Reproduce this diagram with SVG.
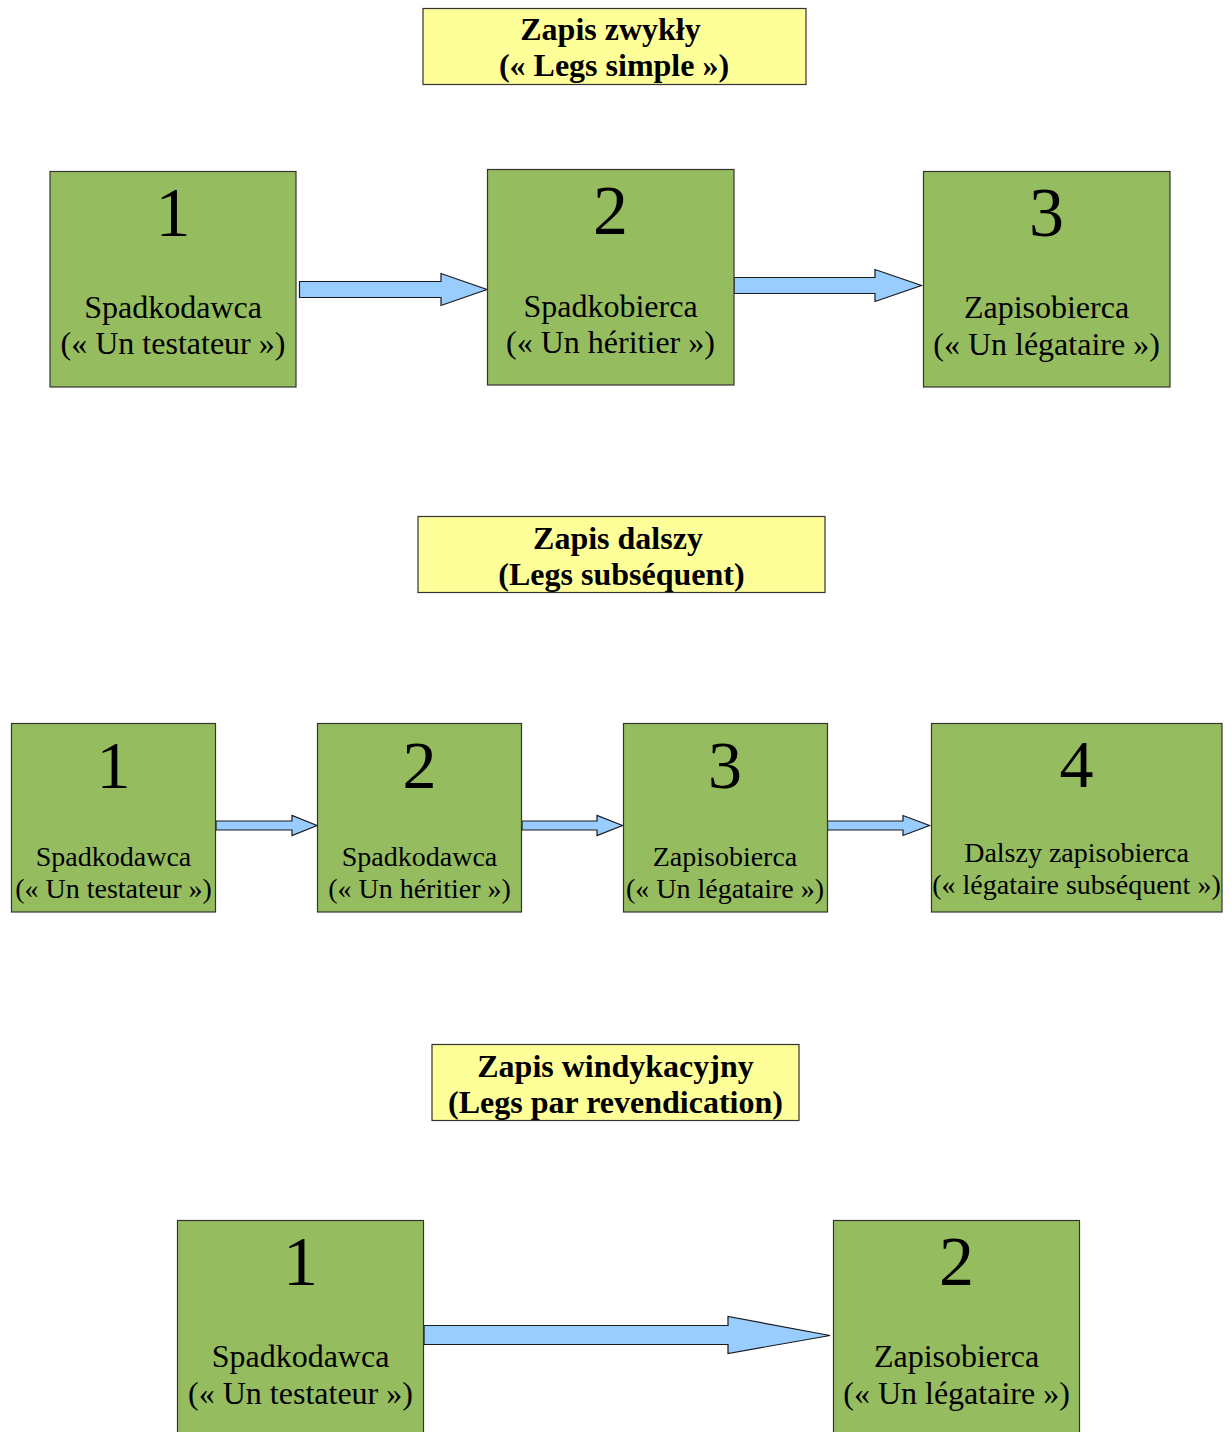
<svg xmlns="http://www.w3.org/2000/svg" width="1232" height="1432" viewBox="0 0 1232 1432">
<style>
.box{fill:#95bd5f;stroke:#333333;stroke-width:1.2}
.title{fill:#ffff99;stroke:#333333;stroke-width:1.2}
.arrow{fill:#99ccff;stroke:#1a1a1a;stroke-width:1.2;stroke-linejoin:miter}
text{font-family:"Liberation Serif","Times New Roman",serif;fill:#000;text-anchor:middle}
.t{font-weight:bold;font-size:32px}
.n{font-size:70px}
.n2{font-size:68px}
.l{font-size:32px}
.l2{font-size:28px}
</style>
<rect width="1232" height="1432" fill="#ffffff"/>

<g id="title1">
<rect class="title" x="423" y="8.5" width="383" height="76"/>
<text class="t" x="610.5" y="40">Zapis zwykły</text>
<text class="t" x="614" y="76">(« Legs simple »)</text>
</g>
<g id="title2">
<rect class="title" x="418" y="516.5" width="407" height="76"/>
<text class="t" x="618" y="549">Zapis dalszy</text>
<text class="t" x="621.5" y="585">(Legs subséquent)</text>
</g>
<g id="title3">
<rect class="title" x="432" y="1044.5" width="367" height="76"/>
<text class="t" x="615.5" y="1077">Zapis windykacyjny</text>
<text class="t" x="615.5" y="1113">(Legs par revendication)</text>
</g>

<g id="connectors">
<polygon class="arrow" points="299.5,281.5 441,281.5 441,273.5 487,289.5 441,305.5 441,297.5 299.5,297.5"/>
<polygon class="arrow" points="734,277.5 875,277.5 875,269.5 921.5,285.5 875,301.5 875,293.5 734,293.5"/>
<polygon class="arrow" points="216,821 292,821 292,815.5 317,825.5 292,835.5 292,830 216,830"/>
<polygon class="arrow" points="522,821 597,821 597,815.5 622.5,825.5 597,835.5 597,830 522,830"/>
<polygon class="arrow" points="827.5,821 903,821 903,815.5 929.5,825.5 903,835.5 903,830 827.5,830"/>
<polygon class="arrow" points="424,1325.5 728,1325.5 728,1316.5 830,1335.5 728,1353.5 728,1344.5 424,1344.5"/>
</g>

<g id="node-a1">
<rect class="box" x="50" y="171.5" width="246" height="215.5"/>
<text class="n" x="173" y="236">1</text>
<text class="l" x="173" y="318">Spadkodawca</text>
<text class="l" x="173" y="354">(« Un testateur »)</text>
</g>
<g id="node-a2">
<rect class="box" x="487.5" y="169.5" width="246.5" height="215.5"/>
<text class="n" x="610.5" y="234">2</text>
<text class="l" x="610.5" y="317">Spadkobierca</text>
<text class="l" x="610.5" y="353">(« Un héritier »)</text>
</g>
<g id="node-a3">
<rect class="box" x="923.5" y="171.5" width="246.5" height="215.5"/>
<text class="n" x="1046.5" y="236">3</text>
<text class="l" x="1046.5" y="318">Zapisobierca</text>
<text class="l" x="1046.5" y="355">(« Un légataire »)</text>
</g>

<g id="node-b1">
<rect class="box" x="11.5" y="723.5" width="204" height="188.5"/>
<text class="n2" x="113.5" y="788">1</text>
<text class="l2" x="113.5" y="866">Spadkodawca</text>
<text class="l2" x="113.5" y="898">(« Un testateur »)</text>
</g>
<g id="node-b2">
<rect class="box" x="317.5" y="723.5" width="204" height="188.5"/>
<text class="n2" x="419.5" y="788">2</text>
<text class="l2" x="419.5" y="866">Spadkodawca</text>
<text class="l2" x="419.5" y="898">(« Un héritier »)</text>
</g>
<g id="node-b3">
<rect class="box" x="623.5" y="723.5" width="204" height="188.5"/>
<text class="n2" x="725" y="788">3</text>
<text class="l2" x="725" y="866">Zapisobierca</text>
<text class="l2" x="725" y="898">(« Un légataire »)</text>
</g>
<g id="node-b4">
<rect class="box" x="931.5" y="723.5" width="290.5" height="188.5"/>
<text class="n2" x="1076.5" y="787">4</text>
<text class="l2" x="1076.5" y="862">Dalszy zapisobierca</text>
<text class="l2" x="1076.5" y="894">(« légataire subséquent »)</text>
</g>

<g id="node-c1">
<rect class="box" x="177.5" y="1220.5" width="246" height="220"/>
<text class="n" x="300.5" y="1285">1</text>
<text class="l" x="300.5" y="1367">Spadkodawca</text>
<text class="l" x="300.5" y="1404">(« Un testateur »)</text>
</g>
<g id="node-c2">
<rect class="box" x="833.5" y="1220.5" width="246" height="220"/>
<text class="n" x="956.5" y="1285">2</text>
<text class="l" x="956.5" y="1367">Zapisobierca</text>
<text class="l" x="956.5" y="1404">(« Un légataire »)</text>
</g>
</svg>
